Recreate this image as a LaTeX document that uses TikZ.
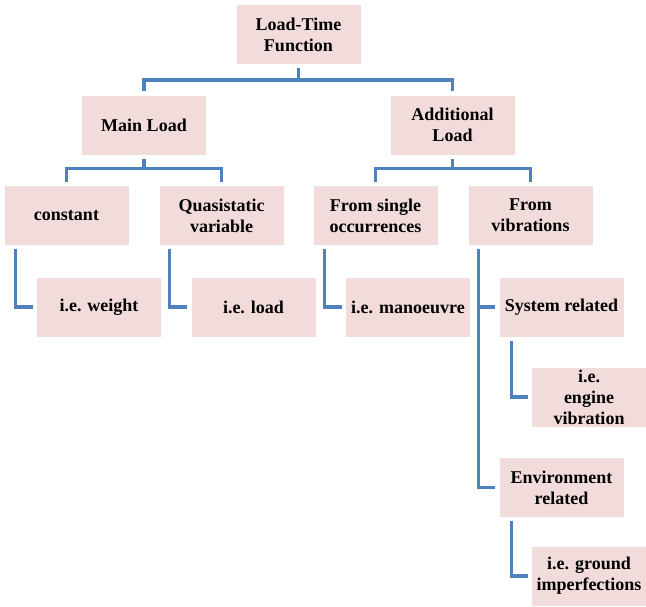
\documentclass[tikz,border=0pt]{standalone}
\usepackage{fontspec}
\setmainfont{Liberation Serif}
\definecolor{boxpink}{HTML}{F2DCDB}
\definecolor{linkblue}{HTML}{4F81BD}
\begin{document}
\begin{tikzpicture}[x=1pt,y=-1pt,
   box/.style={fill=boxpink,minimum width=124pt,minimum height=59pt,inner sep=2pt,align=center,
               font=\fontsize{18}{21}\selectfont\bfseries},
   link/.style={draw=linkblue,line width=3.5pt,shorten <=4pt,shorten >=4pt}]
   \useasboundingbox (0,0) rectangle (646,606);
   \node[box] (ltf)   at (298.5, 34.5) {Load-Time\\Function};
   \node[box] (main)  at (144  ,125  ) {Main Load};
   \node[box] (add)   at (452.5,125  ) {Additional\\Load};
   \node[box] (const) at ( 66.5,215.5) {constant};
   \node[box] (quasi) at (221.5,215.5) {Quasistatic\\variable};
   \node[box] (single) at (375.5,215.5) {From single\\occurrences};
   \node[box] (vib)   at (530.5,215.5) {From\\vibrations};
   \node[box] (weight) at ( 99  ,307  ) {i.e. weight};
   \node[box] (ldex)  at (253.5,307  ) {i.e. load};
   \node[box] (man)   at (408  ,307  ) {i.e. manoeuvre};
   \node[box] (sys)   at (561.5,307  ) {System related};
   \node[box,minimum width=114pt] (engine) at (589,397) {i.e.\\engine\\vibration};
   \node[box] (env)   at (561.5,487.5) {Environment\\related};
   \node[box,minimum width=114pt] (ground) at (589,576) {i.e. ground\\imperfections};
   \draw[link] (ltf.south)  -- ++(0,16) -| (main.north);
   \draw[link] (ltf.south)  -- ++(0,16) -| (add.north);
   \draw[link] (main.south) -- ++(0,14) -| (const.north);
   \draw[link] (main.south) -- ++(0,14) -| (quasi.north);
   \draw[link] (add.south)  -- ++(0,14) -| (single.north);
   \draw[link] (add.south)  -- ++(0,14) -| (vib.north);
   \draw[link] ([xshift=11pt]const.south west)  |- (weight.west);
   \draw[link] ([xshift=10pt]quasi.south west)  |- (ldex.west);
   \draw[link] ([xshift=11pt]single.south west) |- (man.west);
   \draw[link] ([xshift=10pt]vib.south west)    |- (sys.west);
   \draw[link] ([xshift=10pt]vib.south west)    |- (env.west);
   \draw[link] ([xshift=12pt]sys.south west)    |- (engine.west);
   \draw[link] ([xshift=12pt]env.south west)    |- (ground.west);
\end{tikzpicture}
\end{document}
